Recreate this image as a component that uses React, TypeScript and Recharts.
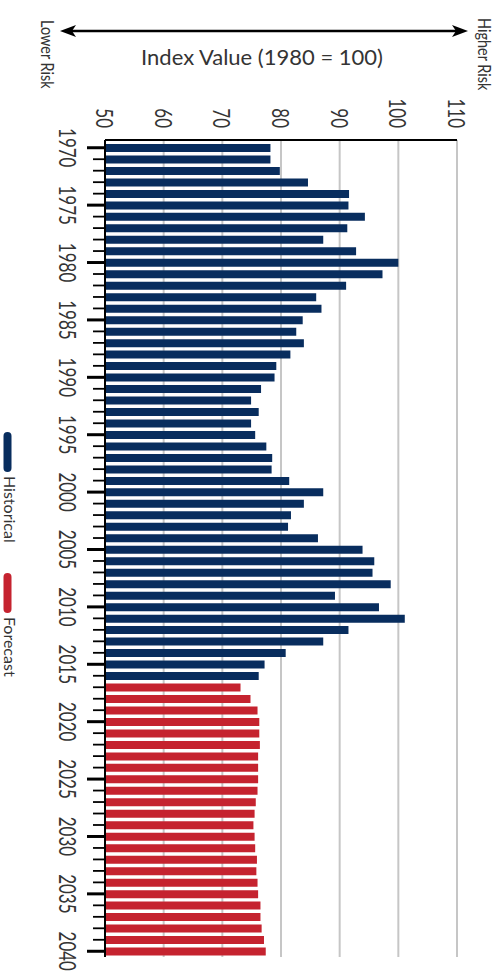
import { Bar, BarChart, CartesianGrid, Cell, XAxis, YAxis } from 'recharts';

const years = [
  1970, 1971, 1972, 1973, 1974, 1975, 1976, 1977, 1978, 1979,
  1980, 1981, 1982, 1983, 1984, 1985, 1986, 1987, 1988, 1989,
  1990, 1991, 1992, 1993, 1994, 1995, 1996, 1997, 1998, 1999,
  2000, 2001, 2002, 2003, 2004, 2005, 2006, 2007, 2008, 2009,
  2010, 2011, 2012, 2013, 2014, 2015, 2016, 2017, 2018, 2019,
  2020, 2021, 2022, 2023, 2024, 2025, 2026, 2027, 2028, 2029,
  2030, 2031, 2032, 2033, 2034, 2035, 2036, 2037, 2038, 2039,
  2040,
];

// 1970-2016
const historical = [
  78.2, 78.2, 79.8, 84.6, 91.6, 91.5, 94.3, 91.3, 87.2, 92.8,
  100, 97.3, 91.1, 86, 86.9, 83.7, 82.6, 83.9, 81.6, 79.2,
  78.9, 76.6, 74.9, 76.2, 74.9, 75.6, 77.5, 78.5, 78.4, 81.4,
  87.2, 83.9, 81.7, 81.2, 86.3, 93.9, 95.9, 95.6, 98.7, 89.2,
  96.7, 101.1, 91.5, 87.2, 80.8, 77.2, 76.2,
];

// 2017-2040
const forecast = [
  73.1, 74.8, 76.0, 76.3, 76.3, 76.4, 76.1, 76.1, 76.1, 76.0,
  75.7, 75.5, 75.3, 75.5, 75.6, 75.9, 75.8, 76.0, 76.1, 76.5,
  76.5, 76.7, 77.1, 77.4,
];

const valueTicks = [50, 60, 70, 80, 90, 100, 110];

const series = [
  { name: 'Historical', color: '#082d5e' },
  { name: 'Forecast', color: '#c5232f' },
];

const FONT = 'Lato, "Open Sans", sans-serif';
const TEXT = '#343434';

const rows = years.map((year, i) => {
  const isHist = i < historical.length;
  return {
    year,
    value: isHist ? historical[i] : forecast[i - historical.length],
    kind: isHist ? 0 : 1,
  };
});

function ValueTick(props: any) {
  const { x, y, payload } = props;
  return (
    <text
      transform={`translate(${x},${y}) scale(1.35,1) rotate(90)`}
      textAnchor="end"
      dominantBaseline="central"
      fontSize={17}
      fontFamily={FONT}
      fill={TEXT}
    >
      {payload.value}
    </text>
  );
}

function YearTick(props: any) {
  const { x, y, payload } = props;
  const major = payload.value % 5 === 0;
  return (
    <g>
      <line
        x1={x - (major ? 18 : 12)}
        x2={x}
        y1={y}
        y2={y}
        stroke="#000"
        strokeWidth={major ? 3 : 1.8}
      />
      {major && (
        <text
          transform={`translate(${x - 37},${y}) scale(1.35,1) rotate(90)`}
          textAnchor="middle"
          dominantBaseline="central"
          fontSize={17}
          fontFamily={FONT}
          fill={TEXT}
        >
          {payload.value}
        </text>
      )}
    </g>
  );
}

function SeriesLegend() {
  return (
    <g>
      {series.map((s, i) => {
        const top = 430 + i * 141;
        return (
          <g key={s.name}>
            <rect x={3.5} y={top + 2} width={8} height={40} rx={4} fill={s.color} />
            <text
              transform={`translate(10,${top + 46}) rotate(90)`}
              textAnchor="start"
              dominantBaseline="central"
              fontSize={16}
              fontFamily={FONT}
              fill={TEXT}
            >
              {s.name}
            </text>
          </g>
        );
      })}
    </g>
  );
}

export default function App() {
  return (
    <div style={{ position: 'absolute', left: 0, top: 0, width: 503, height: 978, background: '#fff' }}>
      <BarChart
        width={503}
        height={978}
        data={rows}
        layout="vertical"
        margin={{ top: 109, right: 46, bottom: 21, left: 45 }}
      >
        <CartesianGrid horizontal={false} stroke="#c6c6c6" strokeWidth={2} />
        <XAxis
          type="number"
          orientation="top"
          domain={[50, 110]}
          ticks={valueTicks}
          height={31}
          axisLine={{ stroke: '#000', strokeWidth: 2 }}
          tickLine={false}
          tickSize={0}
          tickMargin={12}
          tick={<ValueTick />}
        />
        <YAxis
          type="category"
          dataKey="year"
          width={60}
          interval={0}
          padding={{ top: 2, bottom: 0 }}
          axisLine={{ stroke: '#000', strokeWidth: 2 }}
          tickLine={false}
          tickSize={0}
          tickMargin={0}
          tick={<YearTick />}
        />
        <Bar dataKey="value" barSize={8} isAnimationActive={false}>
          {rows.map((r) => (
            <Cell key={r.year} fill={series[r.kind].color} />
          ))}
        </Bar>
      </BarChart>
      <svg
        width={503}
        height={978}
        style={{ position: 'absolute', left: 0, top: 0, pointerEvents: 'none' }}
      >
        <line x1={70} x2={458} y1={31} y2={31} stroke="#000" strokeWidth={2.5} />
        <polygon points="60,31 76,25 72,31 76,37" fill="#000" />
        <polygon points="468,31 452,25 456,31 452,37" fill="#000" />
        <text x={262} y={65} textAnchor="middle" fontSize={22} fontFamily={FONT} fill={TEXT}>
          Index Value (1980 = 100)
        </text>
        <text
          transform="translate(47,20) scale(1.15,1) rotate(90)"
          textAnchor="start"
          dominantBaseline="central"
          fontSize={14.5}
          fontFamily={FONT}
          fill={TEXT}
        >
          Lower Risk
        </text>
        <text
          transform="translate(484,18) scale(1.15,1) rotate(90)"
          textAnchor="start"
          dominantBaseline="central"
          fontSize={14.5}
          fontFamily={FONT}
          fill={TEXT}
        >
          Higher Risk
        </text>
        <SeriesLegend />
      </svg>
    </div>
  );
}
